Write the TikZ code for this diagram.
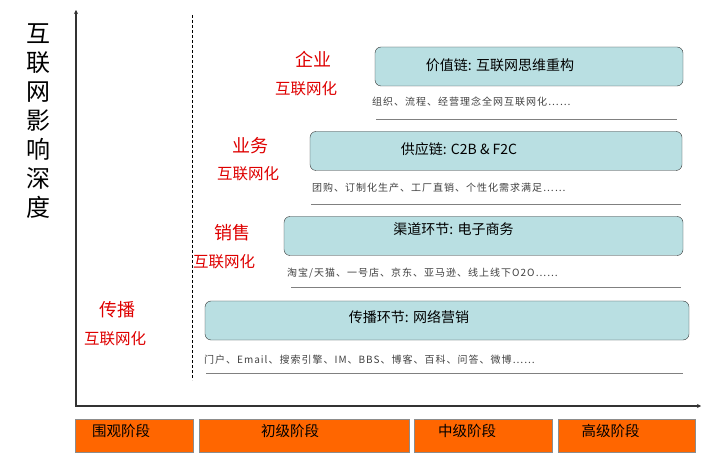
\documentclass[tikz,border=0pt]{standalone}
\usepackage{fontspec}
\setmainfont{Noto Sans CJK SC}
\newfontfamily\exfont[LetterSpace=10]{Noto Sans CJK SC}
\definecolor{chainfill}{RGB}{185, 223, 226}
\definecolor{stagefill}{RGB}{255, 102, 0}
\definecolor{levelred}{RGB}{222, 0, 0}
\usetikzlibrary{arrows.meta, positioning}

\begin{document}
\begin{tikzpicture}[x=1pt, y=-1pt,
            axis/.style={draw=black!80, line width=2.2pt, {Stealth[length=4pt, width=4pt]}-{Stealth[length=4pt, width=4pt]}},
            chain/.style={draw=black!80, fill=chainfill, rounded corners=6pt, minimum height=39pt, inner sep=0pt},
            chaintext/.style={inner sep=0pt, font=\fontsize{14}{16}\selectfont},
            example/.style={anchor=west, inner sep=0pt, text=black!75, font=\exfont\fontsize{10}{12}\selectfont},
            rule/.style={draw=black!50, line width=0.8pt},
            level/.style={text=levelred, inner sep=0pt, font=\fontsize{18}{20}\selectfont},
            levelsub/.style={text=levelred, inner sep=0pt, font=\fontsize{15.5}{18}\selectfont},
            stage/.style={draw=black!45, fill=stagefill, minimum height=33pt, inner sep=0pt},
            stagetext/.style={inner sep=0pt, font=\fontsize{14.5}{17}\selectfont}
        ]
            \useasboundingbox (0,0) rectangle (720,470);

            % axes
            \coordinate (origin) at (76,406);
            \coordinate (ytop) at (76,10);
            \coordinate (xend) at (701,406);
            \draw[axis] (ytop) -- (origin) -- (xend);
            \node[inner sep=0pt, align=center, font=\fontsize{24}{29}\selectfont] (depth) at (38,121) {互\\联\\网\\影\\响\\深\\度};
            \draw[dashed, dash pattern=on 3pt off 2pt, line width=0.9pt] (192,15) -- (192,380);

            % chain boxes
            \node[chain, minimum width=308pt, label={[chaintext, xshift=-29pt, yshift=1.5pt]center:价值链: 互联网思维重构}] (value) at (529,66.5) {};
            \node[chain, minimum width=372pt, label={[chaintext, xshift=-37pt, yshift=2pt]center:供应链: C2B \& F2C}] (supply) at (496,151) {};
            \node[chain, minimum width=399pt, label={[chaintext, xshift=-30pt, yshift=7pt]center:渠道环节: 电子商务}] (channel) at (483.5,236) {};
            \node[chain, minimum width=484pt, label={[chaintext, xshift=-38pt, yshift=3pt]center:传播环节: 网络营销}] (spread) at (447,320.5) {};

            % examples
            \node[example] (valueex) at (372,102) {组织、流程、经营理念全网互联网化……};
            \node[example] (supplyex) at (312,188) {团购、订制化生产、工厂直销、个性化需求满足……};
            \node[example] (channelex) at (287,273) {淘宝/天猫、一号店、京东、亚马逊、线上线下O2O……};
            \node[example] (spreadex) at (204,360) {门户、Email、搜索引擎、IM、BBS、博客、百科、问答、微博……};
            \draw[rule] (376,119) -- (677,119);
            \draw[rule] (311,204) -- (681,204);
            \draw[rule] (291,287) -- (681,287);
            \draw[rule] (206,373) -- (683,373);

            % levels
            \node[level] (corp) at (313,59) {企业};
            \node[levelsub] (corpnet) at (306,89) {互联网化};
            \node[level] (biz) at (250,146) {业务};
            \node[levelsub] (biznet) at (248,174) {互联网化};
            \node[level] (sales) at (232,233) {销售};
            \node[levelsub] (salesnet) at (224,262) {互联网化};
            \node[level] (comm) at (117,310) {传播};
            \node[levelsub] (commnet) at (115,339) {互联网化};

            % stages
            \node[stage, minimum width=118pt, label={[stagetext, xshift=-13pt, yshift=5pt]center:围观阶段}] (watch) at (134,435.5) {};
            \node[stage, minimum width=210pt, label={[stagetext, xshift=-14pt, yshift=5pt]center:初级阶段}] (basic) at (304,435.5) {};
            \node[stage, minimum width=138pt, label={[stagetext, xshift=-16pt, yshift=5pt]center:中级阶段}] (middle) at (483,435.5) {};
            \node[stage, minimum width=137pt, label={[stagetext, xshift=-16pt, yshift=5pt]center:高级阶段}] (senior) at (626.5,435.5) {};
        \end{tikzpicture}
\end{document}
